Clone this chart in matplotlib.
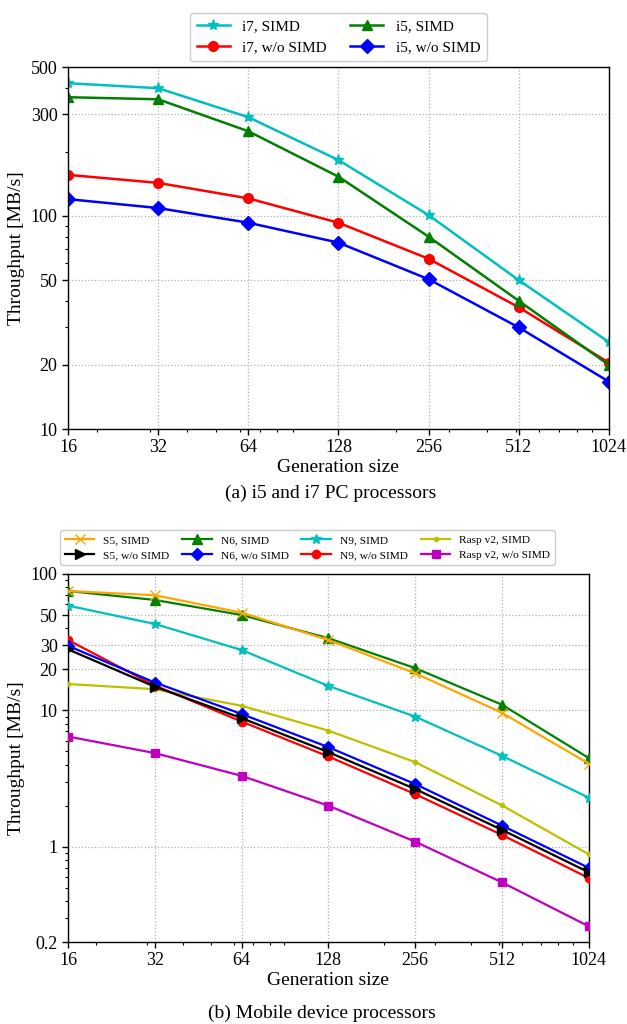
import matplotlib
matplotlib.use("Agg")
import matplotlib.pyplot as plt
from matplotlib.ticker import FixedLocator, NullFormatter, LogLocator

plt.rcParams["font.family"] = ["Liberation Serif", "DejaVu Serif"]
plt.rcParams["mathtext.fontset"] = "stix"

gen_sizes = [16, 32, 64, 128, 256, 512, 1024]

# (a) PC processors, MB/s
i7_simd = [420, 398, 291, 183, 101, 50, 25.6]
i7_nosimd = [156, 143, 121, 93, 63, 37.3, 20.5]
i5_simd = [361, 353, 250, 153, 80, 40, 20]
i5_nosimd = [120, 109, 93, 75, 50.5, 30, 16.7]

# (b) mobile processors, MB/s
s5_simd = [75, 69.8, 52, 32.8, 18.7, 9.6, 4.06]
s5_nosimd = [28, 14.9, 8.77, 4.94, 2.65, 1.33, 0.65]
n6_simd = [75, 64.5, 50, 33.8, 20.4, 11, 4.47]
n6_nosimd = [29.7, 16, 9.4, 5.37, 2.88, 1.43, 0.70]
n9_simd = [58.6, 43, 27.7, 15.1, 9.0, 4.64, 2.29]
n9_nosimd = [32.8, 15.2, 8.28, 4.59, 2.43, 1.22, 0.59]
rasp_simd = [15.6, 14.3, 10.8, 7.1, 4.17, 2.01, 0.88]
rasp_nosimd = [6.43, 4.86, 3.31, 2.0, 1.09, 0.548, 0.261]

TICK_FS = 13
LABEL_FS = 14


def style_axes(ax, yticks, ylim):
    ax.set_xscale("log")
    ax.set_yscale("log")
    ax.set_xlim(16, 1024)
    ax.set_ylim(*ylim)
    ax.xaxis.set_major_locator(FixedLocator(gen_sizes))
    ax.set_xticklabels([str(g) for g in gen_sizes])
    ax.xaxis.set_minor_locator(LogLocator(base=10, subs=range(2, 10)))
    ax.xaxis.set_minor_formatter(NullFormatter())
    ax.yaxis.set_major_locator(FixedLocator(yticks))
    ax.set_yticklabels([("%g" % t) for t in yticks])
    ax.yaxis.set_minor_locator(LogLocator(base=10, subs=range(2, 10)))
    ax.yaxis.set_minor_formatter(NullFormatter())
    ax.tick_params(labelsize=TICK_FS, length=4, width=1)
    ax.tick_params(which="minor", length=2.5, width=0.8)
    ax.grid(True, which="major", linestyle=":", color="#b0b0b0", linewidth=0.9)
    ax.set_xlabel("Generation size", fontsize=LABEL_FS, labelpad=2)
    ax.set_ylabel("Throughput [MB/s]", fontsize=LABEL_FS, labelpad=4)
    for s in ax.spines.values():
        s.set_linewidth(1.0)


fig = plt.figure(figsize=(6.27, 10.24), dpi=100)

# ---- (a) ----
ax1 = fig.add_axes([0.1085, 0.581, 0.8625, 0.3535])
lw = 1.8
ax1.plot(gen_sizes, i7_simd, color="c", marker="*", ms=8, lw=lw, label="i7, SIMD")
ax1.plot(gen_sizes, i7_nosimd, color="r", marker="o", ms=7, lw=lw, label="i7, w/o SIMD")
ax1.plot(gen_sizes, i5_simd, color="g", marker="^", ms=7, lw=lw, label="i5, SIMD")
ax1.plot(gen_sizes, i5_nosimd, color="b", marker="D", ms=7, lw=lw, label="i5, w/o SIMD")
style_axes(ax1, [10, 20, 50, 100, 300, 500], (10, 500))
ax1.legend(ncol=2, fontsize=11, loc="lower center", bbox_to_anchor=(0.5, 1.0),
           borderaxespad=0.4, handlelength=2.2, columnspacing=1.5, borderpad=0.45,
           labelspacing=0.45, framealpha=1, edgecolor="#cccccc", fancybox=True)
fig.text(0.527, 0.518, "(a) i5 and i7 PC processors", ha="center", va="center", fontsize=14)

# ---- (b) ----
ax2 = fig.add_axes([0.1085, 0.080, 0.8305, 0.3595])
lw = 1.6
series = [
    (s5_simd, "orange", "x", 7, "S5, SIMD", 9),
    (s5_nosimd, "k", ">", 7, "S5, w/o SIMD", 8),
    (n6_simd, "g", "^", 7, "N6, SIMD", 4),
    (n6_nosimd, "b", "D", 6, "N6, w/o SIMD", 5),
    (n9_simd, "c", "*", 7, "N9, SIMD", 3),
    (n9_nosimd, "r", "o", 6, "N9, w/o SIMD", 4),
    (rasp_simd, "y", ".", 6, "Rasp v2, SIMD", 3),
    (rasp_nosimd, "m", "s", 6, "Rasp v2, w/o SIMD", 3),
]
for vals, col, mk, ms, lab, z in series:
    ax2.plot(gen_sizes, vals, color=col, marker=mk, ms=ms, lw=lw, label=lab, zorder=z)
style_axes(ax2, [0.2, 1, 10, 20, 30, 50, 100], (0.2, 100))
ax2.legend(ncol=4, fontsize=8.2, loc="lower center", bbox_to_anchor=(0.46, 1.01),
           handlelength=2.6, columnspacing=1.1, borderpad=0.4, labelspacing=0.45,
           framealpha=1, edgecolor="#cccccc", fancybox=True)
fig.text(0.513, 0.010, "(b) Mobile device processors", ha="center", va="center", fontsize=14)

fig.savefig("out.png", dpi=100)
